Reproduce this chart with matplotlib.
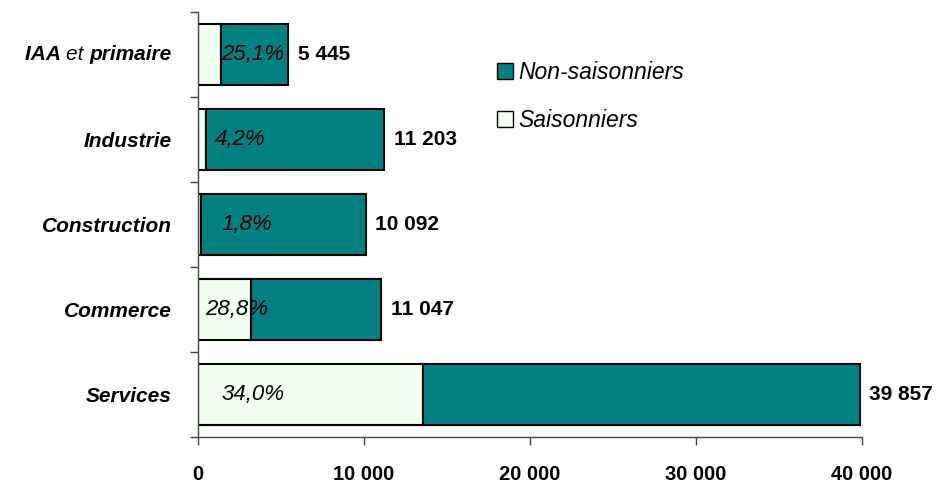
import matplotlib
matplotlib.use('Agg')
import matplotlib.pyplot as plt
from matplotlib.patches import Patch
from matplotlib.ticker import FixedLocator
from matplotlib.offsetbox import TextArea, HPacker, AnnotationBbox

plt.rcParams['font.family'] = ['Liberation Sans Narrow', 'Liberation Sans', 'DejaVu Sans']

categories = ['IAA et primaire', 'Industrie', 'Construction', 'Commerce', 'Services']
totals = [5445, 11203, 10092, 11047, 39857]
share_seasonal = [25.1, 4.2, 1.8, 28.8, 34.0]
xticks = [0, 10000, 20000, 30000, 40000]

teal = '#008080'
light = '#F0FFF0'


def fmt(v):
    return f'{v:,}'.replace(',', ' ')


seasonal = [t * s / 100 for t, s in zip(totals, share_seasonal)]
non_seasonal = [t - s for t, s in zip(totals, seasonal)]
ypos = list(range(len(categories)))[::-1]

fig = plt.figure(figsize=(9.53, 4.87), dpi=100)
ax = fig.add_axes([198 / 953, 1 - 437 / 487, 664 / 953, 425 / 487])

ax.barh(ypos, seasonal, height=0.72, color=light, edgecolor='black', linewidth=1.5)
ax.barh(ypos, non_seasonal, left=seasonal, height=0.72, color=teal,
        edgecolor='black', linewidth=1.5)

# percent labels inside the bars
pct_x = [1400, 1000, 1400, 400, 1400]
for y, p, px in zip(ypos, share_seasonal, pct_x):
    ax.text(px, y, f'{p:.1f}%'.replace('.', ','), ha='left', va='center',
            fontsize=16, style='italic', color='black')

# totals at the end of the bars
for y, t in zip(ypos, totals):
    ax.annotate(fmt(t), (t, y), xytext=(7, 0), textcoords='offset points',
                ha='left', va='center', fontsize=15, fontweight='bold')

ax.set_xlim(0, 40000)
ax.set_ylim(-0.5, len(categories) - 0.5)
ax.set_xticks(xticks)
ax.set_xticklabels([fmt(v) for v in xticks], fontsize=14.5, fontweight='bold')
ax.tick_params(axis='x', direction='out', length=6, width=1, color='#444444', pad=14)

# first label has a non-bold "et", drawn separately
ax.set_yticks(ypos)
ax.set_yticklabels([''] + categories[1:], fontsize=15, fontweight='bold', style='italic')
ax.tick_params(axis='y', which='major', length=0, pad=19)
ax.yaxis.set_minor_locator(FixedLocator([i - 0.5 for i in range(len(categories) + 1)]))
ax.tick_params(axis='y', which='minor', direction='out', length=6, width=1, color='#444444')

parts = categories[0].split(' ')
bold = {'style': 'italic', 'weight': 'bold', 'size': 15}
plain = {'style': 'italic', 'size': 15}
pack = HPacker(children=[TextArea(parts[0] + ' ', textprops=bold),
                         TextArea(parts[1] + ' ', textprops=plain),
                         TextArea(parts[2], textprops=bold)],
               align='baseline', pad=0, sep=0)
ab = AnnotationBbox(pack, (0, ypos[0]), xycoords=('axes fraction', 'data'),
                    xybox=(-19, 0), boxcoords='offset points', box_alignment=(1, 0.5),
                    frameon=False, annotation_clip=False)
ax.add_artist(ab)

for s in ['top', 'right']:
    ax.spines[s].set_visible(False)
for s in ['left', 'bottom']:
    ax.spines[s].set_color('#444444')
    ax.spines[s].set_linewidth(1)

handles = [Patch(facecolor=teal, edgecolor='black', label='Non-saisonniers'),
           Patch(facecolor=light, edgecolor='black', label='Saisonniers')]
fig.legend(handles=handles, loc='upper left', bbox_to_anchor=(476 / 953, 1 - 40 / 487),
           frameon=False, prop={'style': 'italic', 'size': 16.5},
           handlelength=0.7, handleheight=0.7, handletextpad=0.25, labelspacing=1.1)

fig.savefig('out.png', dpi=100)
